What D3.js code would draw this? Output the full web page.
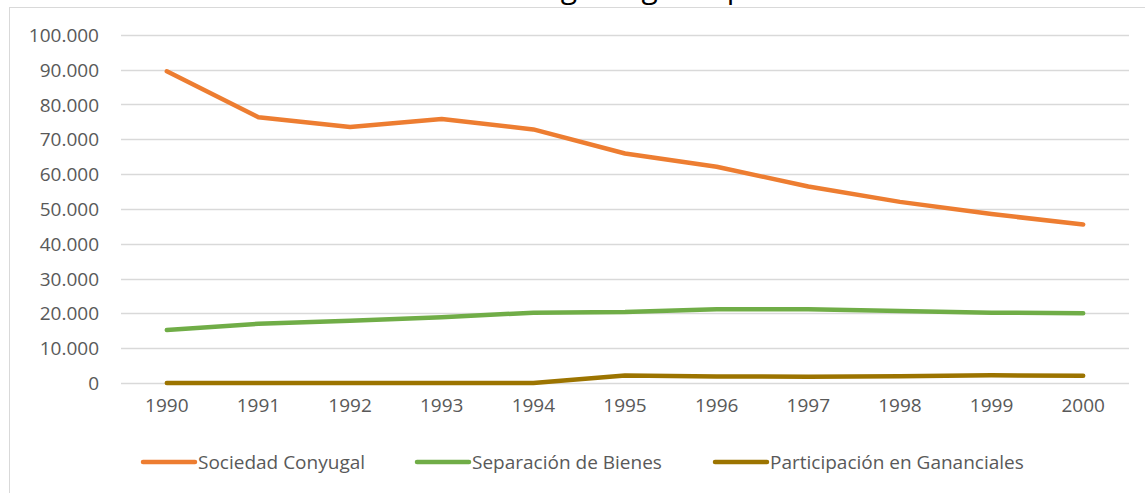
<!DOCTYPE html>
<html lang="es">
<head>
<meta charset="utf-8">
<title>Matrimonios según régimen patrimonial</title>
<script src="https://cdn.jsdelivr.net/npm/d3@7"></script>
<style>
  body { margin: 0; background: #fff; }
  svg { display: block; font-family: "Open Sans", sans-serif; }
  .tick text { fill: #595959; font-size: 19px; font-family: "Open Sans", sans-serif; }
</style>
</head>
<body>
<div id="chart"></div>
<script>
// data
var years = ["1990","1991","1992","1993","1994","1995","1996","1997","1998","1999","2000"];
var sociedad = [89500, 76300, 73500, 75800, 72800, 65900, 62100, 56400, 52000, 48500, 45500];
var separacion = [15200, 17000, 17900, 18900, 20200, 20400, 21200, 21200, 20700, 20200, 20000];
var participacion = [0, 0, 0, 0, 0, 2150, 1900, 1800, 1950, 2200, 2050];
var seriesNames = ["Sociedad Conyugal", "Separación de Bienes", "Participación en Gananciales"];
var seriesColors = ["#ed7d31", "#70ad47", "#9c7400"];
var yTicks = [0, 10000, 20000, 30000, 40000, 50000, 60000, 70000, 80000, 90000, 100000];

var w = 1145, h = 493;

var svg = d3.select("#chart").append("svg")
  .attr("width", w)
  .attr("height", h);

// chart frame, runs off the bottom/right of the crop
svg.append("rect")
  .attr("x", 9.5).attr("y", 7.5)
  .attr("width", w).attr("height", h)
  .attr("fill", "none").attr("stroke", "#d9d9d9");

// title sits above the crop in the reference, only its descenders show
svg.append("text")
  .attr("x", 619).attr("y", -2)
  .attr("text-anchor", "middle")
  .attr("textLength", 508)
  .attr("lengthAdjust", "spacing")
  .style("font-size", "30px")
  .attr("fill", "#000")
  .text("Matrimonios según régimen patrimonial");

var x = d3.scaleBand().domain(years).range([121, 1129]);
var y = d3.scaleLinear().domain([0, 100000]).range([383, 34.7]);

var es = d3.formatLocale({ decimal: ",", thousands: ".", grouping: [3], currency: ["", ""] });
var fmt = es.format(",d");

// gridlines
svg.append("g").selectAll("line").data(yTicks).join("line")
  .attr("x1", 121).attr("x2", 1129)
  .attr("y1", d => Math.round(y(d)) + 0.5)
  .attr("y2", d => Math.round(y(d)) + 0.5)
  .attr("stroke", "#d9d9d9").attr("stroke-width", 1.3);

var yAxis = svg.append("g")
  .attr("transform", "translate(99,0)")
  .call(d3.axisLeft(y).tickValues(yTicks).tickFormat(fmt).tickSize(0).tickPadding(0));
yAxis.attr("font-family", null).attr("font-size", null);
yAxis.select(".domain").remove();
yAxis.selectAll("text").attr("dy", "0.35em");

var xAxis = svg.append("g")
  .attr("transform", "translate(0,398)")
  .call(d3.axisBottom(x).tickSize(0).tickPadding(0));
xAxis.attr("font-family", null).attr("font-size", null);
xAxis.select(".domain").remove();
xAxis.selectAll("text").attr("dy", "0.71em");

var line = d3.line()
  .x((d, i) => x(years[i]) + x.bandwidth() / 2)
  .y(d => y(d));

var allSeries = [sociedad, separacion, participacion];

svg.append("g").selectAll("path").data(allSeries).join("path")
  .attr("d", d => line(d))
  .attr("fill", "none")
  .attr("stroke", (d, i) => seriesColors[i])
  .attr("stroke-width", 4.5)
  .attr("stroke-linecap", "round")
  .attr("stroke-linejoin", "round");

// legend
var legendX = [143, 417, 715];
var legend = svg.append("g").selectAll("g").data(seriesNames).join("g")
  .attr("transform", (d, i) => "translate(" + legendX[i] + ",462)");
legend.append("line")
  .attr("x1", 0).attr("x2", 52)
  .attr("stroke", (d, i) => seriesColors[i])
  .attr("stroke-width", 4.5)
  .attr("stroke-linecap", "round");
legend.append("text")
  .attr("x", 55).attr("dy", "0.35em")
  .attr("fill", "#595959")
  .style("font-size", "19px")
  .text(d => d);
</script>
</body>
</html>
